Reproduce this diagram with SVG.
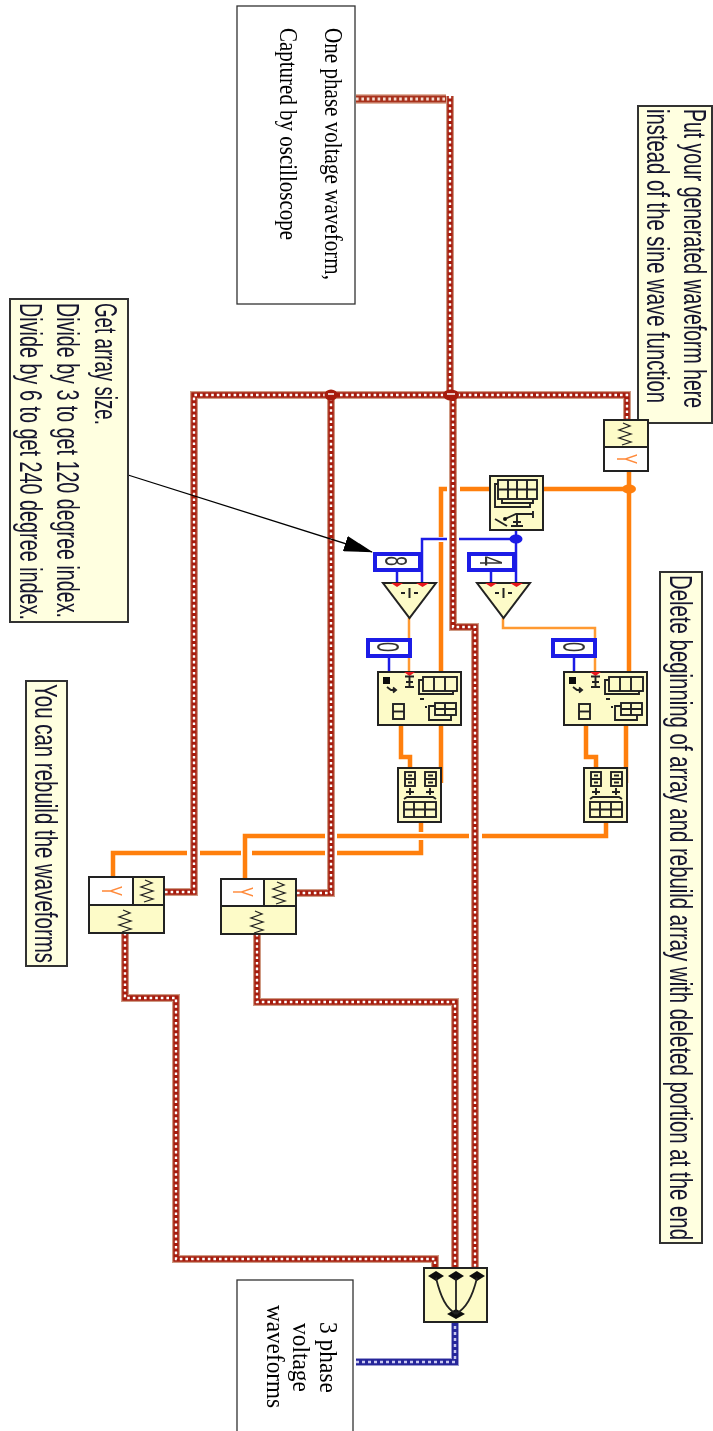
<svg xmlns="http://www.w3.org/2000/svg" width="713" height="1431" viewBox="0 0 713 1431">
<style>
.note{fill:#ffffe0;stroke:#333;stroke-width:2}
.plain{fill:#fff;stroke:#333;stroke-width:1.3}
.node{fill:#fdfbc8;stroke:#222;stroke-width:2}
.blank{fill:#fff;stroke:#222;stroke-width:2}
.const{fill:#fff;stroke:#1a1ae6;stroke-width:4}
.i{fill:none;stroke:#222;stroke-width:1.9}
.sq{fill:none;stroke:#222;stroke-width:1.300}
.fill{fill:#111;stroke:none}
.pin{fill:#e8141c;stroke:none}
.halo{fill:none;stroke:#cf9a84;stroke-width:8}
.core{fill:none;stroke:#a61c0c;stroke-width:5.500}
.dot{fill:none;stroke:#fff;stroke-width:2.400;stroke-dasharray:2.600 3}
.halot{fill:none;stroke:#e0b5a0;stroke-width:10}
.coret{fill:none;stroke:#a8301e;stroke-width:7}
.dott{fill:none;stroke:#f3dccf;stroke-width:3.200;stroke-dasharray:2.600 2.800}
.o{fill:none;stroke:#ff7f0a;stroke-width:4.500}
.ot{fill:none;stroke:#ff9a30;stroke-width:2.500}
.b{fill:none;stroke:#1a1ae6;stroke-width:2.500}
.lv{font-family:"Liberation Sans",Arial,sans-serif;fill:#14142e;font-size:22px}
.tr{font-family:"Liberation Serif","Times New Roman",serif;fill:#000;font-size:21px}
.num{font-family:"Liberation Sans",Arial,sans-serif;fill:#333;font-size:18px;text-anchor:middle}
.y{font-family:"Liberation Sans",Arial,sans-serif;fill:#ff8a3a;font-size:15px;text-anchor:middle}
</style>
<defs>
<filter id="soft" filterUnits="userSpaceOnUse" x="0" y="0" width="713" height="1431"><feGaussianBlur stdDeviation="0.35"/></filter>
<marker id="head" markerWidth="30" markerHeight="16" refX="28" refY="8" orient="auto" markerUnits="userSpaceOnUse"><path d="M0 0L29 8L0 16Z" fill="#000"/></marker>
<path id="squig" d="M-2 -11L5 -8L-6 -4L6 0L-6 4L6 8L-3 11"/>
<g id="grid3"><path class="i" d="M0 3H-4V17H30V14"/><rect class="i" x="0" y="0" width="34" height="14"/><path class="i" d="M11 0V14M22 0V14"/></g>
<g id="grid2"><path class="i" d="M0 3H-6V17H16V12"/><rect class="i" x="0" y="0" width="21" height="12"/><path class="i" d="M10 0V12M0 6H21"/></g>
<g id="delnode">
<rect class="node" x="0" y="0" width="83" height="53"/>
<rect class="fill" x="5" y="5" width="7" height="7"/>
<path class="i" d="M9 15L13 18H17M15 15.500L18 18L15 20.500"/>
<path class="pin" d="M26 0H37L31.500 4Z"/>
<path class="i" d="M31.500 4V15M27 4.500H36M27 15H36M28 10H35"/>
<use href="#grid3" x="45" y="5"/>
<use href="#grid2" x="57" y="31"/>
<path class="i" d="M42 27H46M47 35H49"/>
<rect class="i" x="15" y="32" width="11" height="15"/><path class="i" d="M15 39.500H26"/>
</g>
<g id="buildnode">
<rect class="node" x="0" y="0" width="43" height="54"/>
<rect class="i" x="7" y="4" width="10" height="14"/><path class="i" d="M7 11H17M10 7.500H14M10 14.500H14"/>
<rect class="i" x="27" y="4" width="11" height="14"/><path class="i" d="M27 11H38M30 7.500H35M30 14.500H35"/>
<path class="i" d="M12 20V22M32 20V22M8 24H16M28 24H36M12 22V27M32 22V27M6 31L9 29H35L38 31"/>
<rect class="i" x="6" y="34" width="32" height="15"/><path class="i" d="M16 34V49M27 34V49M6 41.500H38"/>
</g>
<g id="divide">
<path class="node" d="M0 0H53L26.500 35Z"/>
<path class="pin" d="M8 0H20L14 4Z"/><path class="pin" d="M33 0H46L39.500 4Z"/>
<path d="M26.500 5V15M18 10H22M31 10H35" fill="none" stroke="#222" stroke-width="2"/>
</g>
</defs>
<g filter="url(#soft)">
<g id="connectors">
<path class="halot" d="M356 99H446"/><path class="coret" d="M356 99H446"/><path class="dott" d="M356 99H446"/>
<g>
<path class="halo" d="M450 96V395H453V627H475V1268"/><path class="core" d="M450 96V395H453V627H475V1268"/><path class="dot" d="M450 96V395H453V627H475V1268"/>
<path class="halo" d="M165 892H194V395H627V420"/><path class="core" d="M165 892H194V395H627V420"/><path class="dot" d="M165 892H194V395H627V420"/>
<path class="halo" d="M297 893H331V395"/><path class="core" d="M297 893H331V395"/><path class="dot" d="M297 893H331V395"/>
<path class="halo" d="M125 933V998H176V1259H435V1268"/><path class="core" d="M125 933V998H176V1259H435V1268"/><path class="dot" d="M125 933V998H176V1259H435V1268"/>
<path class="halo" d="M257 934V1002H455V1268"/><path class="core" d="M257 934V1002H455V1268"/><path class="dot" d="M257 934V1002H455V1268"/>
</g>
<ellipse cx="331" cy="395" rx="6.500" ry="5.500" fill="#a61c0c"/>
<ellipse cx="451" cy="395" rx="8" ry="5.500" fill="#a61c0c"/>
<path d="M328 394H334M447 394H455" stroke="#fff" stroke-width="1.500"/>
<path d="M356 1362H455V1322" fill="none" stroke="#9a9ad0" stroke-width="8"/>
<path d="M356 1362H455V1322" fill="none" stroke="#25259a" stroke-width="6"/>
<path d="M356 1362H455V1322" fill="none" stroke="#c8c8f0" stroke-width="2.500" stroke-dasharray="3 3"/>
<path class="o" d="M629 471V672"/>
<path class="o" d="M543 489H629"/>
<path class="o" d="M490 489H460M447 489H441V537M441 542V672"/>
<ellipse cx="629" cy="489" rx="7" ry="4.500" fill="#ff7f0a"/>
<path class="ot" d="M503 618V628H595V672"/>
<path class="ot" d="M409 618V672"/>
<path class="b" d="M516 530V583M516 539H459M447 539H422V583"/>
<ellipse cx="516" cy="539" rx="6.500" ry="4.500" fill="#1a1ae6"/>
<path class="b" d="M397 572V583M491 572V583M389 658V672M574 658V672"/>
<path class="o" d="M401 725V757H410V768"/>
<path class="o" d="M441 725V783"/>
<path class="o" d="M586 725V757H596V768"/>
<path class="o" d="M626 725V783"/>
<path class="o" d="M606 822V836H482M469 836H337M325 836H245V878"/>
<path class="o" d="M421 822V832M421 840V853H337M325 853H252M241 853H200M187 853H113V877"/>
<line x1="128" y1="475" x2="372" y2="552" stroke="#000" stroke-width="1.300" marker-end="url(#head)"/>
</g>

<g id="source"><rect class="plain" x="237" y="6" width="118" height="298"/>
<text class="tr" transform="translate(325,28) rotate(90) scale(1,1.150)" textLength="252" lengthAdjust="spacingAndGlyphs">One phase voltage waveform,</text>
<text class="tr" transform="translate(280,28) rotate(90) scale(1,1.150)" textLength="212" lengthAdjust="spacingAndGlyphs">Captured by oscilloscope</text></g>

<g id="note-generated"><rect class="note" x="638" y="106" width="74" height="317"/>
<text class="lv" transform="translate(684,109) rotate(90) scale(1,1.400)" textLength="299" lengthAdjust="spacingAndGlyphs">Put your generated waveform here</text>
<text class="lv" transform="translate(647,109) rotate(90) scale(1,1.400)" textLength="294" lengthAdjust="spacingAndGlyphs">instead of the sine wave function</text></g>

<g id="note-size"><rect class="note" x="10" y="299" width="118" height="323"/>
<text class="lv" transform="translate(95,303) rotate(90) scale(1,1.400)" textLength="122" lengthAdjust="spacingAndGlyphs">Get array size.</text>
<text class="lv" transform="translate(57,303) rotate(90) scale(1,1.400)" textLength="315" lengthAdjust="spacingAndGlyphs">Divide by 3 to get 120 degree index.</text>
<text class="lv" transform="translate(20,303) rotate(90) scale(1,1.400)" textLength="317" lengthAdjust="spacingAndGlyphs">Divide by 6 to get 240 degree index.</text></g>

<g id="note-rebuild"><rect class="note" x="26" y="681" width="41" height="285"/>
<text class="lv" transform="translate(35,684) rotate(90) scale(1,1.400)" textLength="279" lengthAdjust="spacingAndGlyphs">You can rebuild the waveforms</text></g>

<g id="note-delete"><rect class="note" x="660" y="572" width="42" height="671"/>
<text class="lv" transform="translate(670,575) rotate(90) scale(1,1.400)" textLength="665" lengthAdjust="spacingAndGlyphs">Delete beginning of array and rebuild array with deleted portion at the end</text></g>

<g id="output"><rect class="plain" x="237" y="1280" width="116" height="160"/>
<text class="tr" transform="translate(320,1322) rotate(90) scale(1,1.150)" textLength="71" lengthAdjust="spacingAndGlyphs">3 phase</text>
<text class="tr" transform="translate(293,1323) rotate(90) scale(1,1.150)" textLength="69" lengthAdjust="spacingAndGlyphs">voltage</text>
<text class="tr" transform="translate(267,1305) rotate(90) scale(1,1.150)" textLength="103" lengthAdjust="spacingAndGlyphs">waveforms</text></g>

<g id="get-y"><rect class="node" x="604" y="420" width="44" height="27"/><rect class="blank" x="604" y="447" width="44" height="24"/>
<use href="#squig" class="sq" x="625" y="434"/>
<text class="y" transform="translate(617,459) rotate(90) scale(1,2)">Y</text></g>

<g id="array-size"><rect class="node" x="490" y="476" width="53" height="54"/>
<path class="i" d="M498 484H495V507H530V503M502 499V503H533V499"/>
<rect class="i" x="498" y="480" width="39" height="19"/>
<path class="i" d="M508 480V499M517 480V499M527 480V499M498 489.500H537"/>
<path class="i" d="M495 519L507 526M505 519L516 514H533M533 511V518M517 514V526M511 526H523M513 522H521"/><circle class="fill" cx="505" cy="519" r="2"/></g>

<g id="const-8"><rect class="const" x="375" y="554" width="45" height="16"/><rect x="418" y="552" width="5" height="20" fill="#1a1ae6"/><text class="num" transform="translate(385,561) rotate(90) scale(1,1.750)">8</text></g>
<g id="const-4"><rect class="const" x="469" y="554" width="45" height="16"/><rect x="512" y="552" width="5" height="20" fill="#1a1ae6"/><text class="num" transform="translate(480,561) rotate(90) scale(1,1.750)">4</text></g>
<g id="const-0a"><rect class="const" x="368" y="640" width="42" height="16"/><text class="num" transform="translate(377,647) rotate(90) scale(1,1.750)">0</text></g>
<g id="const-0b"><rect class="const" x="553" y="640" width="42" height="16"/><text class="num" transform="translate(563,647) rotate(90) scale(1,1.750)">0</text></g>
<g id="divide-l"><use href="#divide" x="383" y="583"/></g>
<g id="divide-r"><use href="#divide" x="477" y="583"/></g>
<g id="delete-l"><use href="#delnode" x="378" y="672"/></g>
<g id="delete-r"><use href="#delnode" x="564" y="672"/></g>
<g id="build-l"><use href="#buildnode" x="398" y="768"/></g>
<g id="build-r"><use href="#buildnode" x="584" y="768"/></g>

<g id="wave-l"><rect class="node" x="89" y="877" width="75" height="56"/><rect class="blank" x="89" y="877" width="44" height="28"/><path class="node" d="M89 905H164"/>
<use href="#squig" class="sq" x="147" y="891"/><use href="#squig" class="sq" x="125" y="921"/>
<text class="y" transform="translate(102,891) rotate(90) scale(1,2)">Y</text></g>
<g id="wave-r"><rect class="node" x="221" y="879" width="75" height="55"/><rect class="blank" x="221" y="879" width="43" height="27"/><path class="node" d="M221 906H296"/>
<use href="#squig" class="sq" x="279" y="893"/><use href="#squig" class="sq" x="257" y="922"/>
<text class="y" transform="translate(233,892) rotate(90) scale(1,2)">Y</text></g>

<g id="merge"><rect class="node" x="424" y="1268" width="63" height="54"/>
<path d="M428 1276L436 1271L444 1276L436 1281ZM448 1276L456 1271L464 1276L456 1281ZM469 1276L477 1271L485 1276L477 1281ZM447 1314L456 1309L465 1314L456 1319Z" fill="#111"/>
<path d="M436 1278C441 1298 446 1308 456 1314M456 1278V1314M477 1278C472 1298 466 1308 456 1314" fill="none" stroke="#222" stroke-width="1.800"/></g>
</g>
</svg>
